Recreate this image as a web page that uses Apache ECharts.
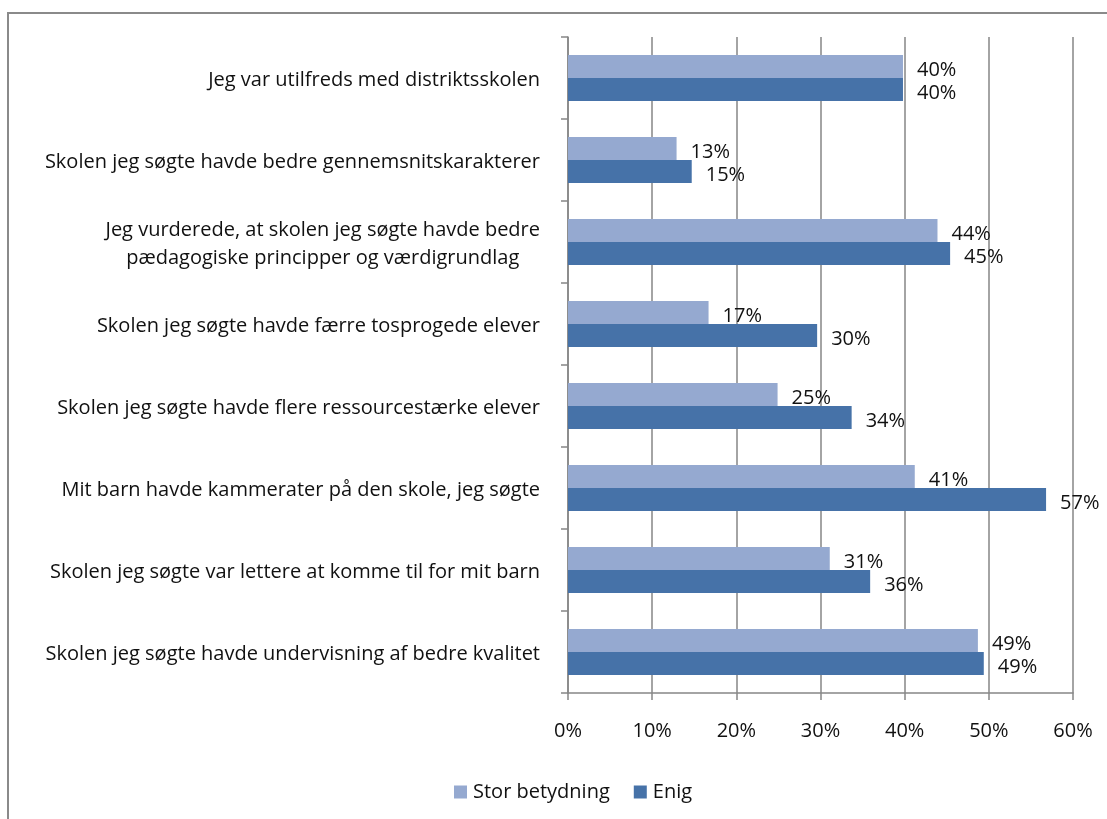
<!DOCTYPE html>
<html>
<head>
<meta charset="utf-8">
<script src="https://cdn.jsdelivr.net/npm/echarts@6/dist/echarts.min.js"></script>
<style>
html,body{margin:0;padding:0;background:#fff;}
#c{width:1107px;height:819px;}
</style>
</head>
<body>
<div id="c"></div>
<script>
var categories = [
  "Jeg var utilfreds med distriktsskolen",
  "Skolen jeg søgte havde bedre gennemsnitskarakterer",
  "Jeg vurderede, at skolen jeg søgte havde bedre\npædagogiske principper og værdigrundlag",
  "Skolen jeg søgte havde færre tosprogede elever",
  "Skolen jeg søgte havde flere ressourcestærke elever",
  "Mit barn havde kammerater på den skole, jeg søgte",
  "Skolen jeg søgte var lettere at komme til for mit barn",
  "Skolen jeg søgte havde undervisning af bedre kvalitet"
];
var seriesNames = ["Stor betydning", "Enig"];
var storBetydning = [39.8, 12.9, 43.9, 16.7, 24.9, 41.2, 31.1, 48.7];
var enig = [39.8, 14.7, 45.4, 29.6, 33.7, 56.8, 35.9, 49.4];
var xTicks = [0, 10, 20, 30, 40, 50, 60];

var FONT = '"Open Sans"';
var FS = 20;
var chart = echarts.init(document.getElementById('c'));
var labelCfg = {
  show: true,
  position: 'right',
  distance: 14,
  offset: [0, 4],
  color: '#111',
  fontFamily: FONT,
  fontSize: FS,
  formatter: function (p) { return Math.round(p.value) + '%'; }
};
chart.setOption({
  animation: false,
  backgroundColor: '#fff',
  graphic: [{
    type: 'rect',
    shape: {x: 8, y: 13, width: 1300, height: 1000},
    style: {fill: 'none', stroke: '#8a8a8a', lineWidth: 2},
    silent: true
  }],
  grid: {left: 568, right: 34, top: 37, bottom: 126, containLabel: false},
  legend: {
    bottom: 12,
    left: 449,
    itemWidth: 13,
    itemHeight: 13,
    itemGap: 24,
    icon: 'rect',
    textStyle: {fontFamily: FONT, fontSize: FS, color: '#111', padding: [0, 0, 0, 1]},
    data: seriesNames
  },
  xAxis: {
    type: 'value',
    min: 0,
    max: 60,
    interval: 10,
    axisLine: {show: true, lineStyle: {color: '#868686', width: 1.5}},
    axisTick: {show: true, length: 7, lineStyle: {color: '#868686', width: 1.5}},
    splitLine: {show: true, lineStyle: {color: '#868686', width: 1.5}},
    axisLabel: {
      margin: 28,
      fontFamily: FONT,
      fontSize: FS,
      color: '#111',
      formatter: function (v) { return xTicks.indexOf(v) >= 0 ? v + '%' : ''; }
    }
  },
  yAxis: {
    type: 'category',
    inverse: true,
    data: categories,
    axisLine: {show: true, lineStyle: {color: '#868686', width: 1.5}},
    axisTick: {show: true, length: 7, lineStyle: {color: '#868686', width: 1.5}},
    axisLabel: {
      margin: 28,
      fontFamily: FONT,
      fontSize: FS,
      color: '#111',
      lineHeight: 28,
      formatter: function (v) {
        return v.split('\n').map(function (s) { return '{c|' + s + '}'; }).join('\n');
      },
      rich: {c: {align: 'center', fontFamily: FONT, fontSize: FS, color: '#111', lineHeight: 28, padding: [5, 0, 0, 0]}}
    }
  },
  series: [
    {
      name: seriesNames[0],
      type: 'bar',
      data: storBetydning,
      barWidth: 23,
      barGap: '0%',
      barCategoryGap: '44%',
      itemStyle: {color: '#95A9D0'},
      label: labelCfg
    },
    {
      name: seriesNames[1],
      type: 'bar',
      data: enig,
      barWidth: 23,
      barGap: '0%',
      itemStyle: {color: '#4672A8'},
      label: labelCfg
    }
  ]
});
</script>
</body>
</html>
